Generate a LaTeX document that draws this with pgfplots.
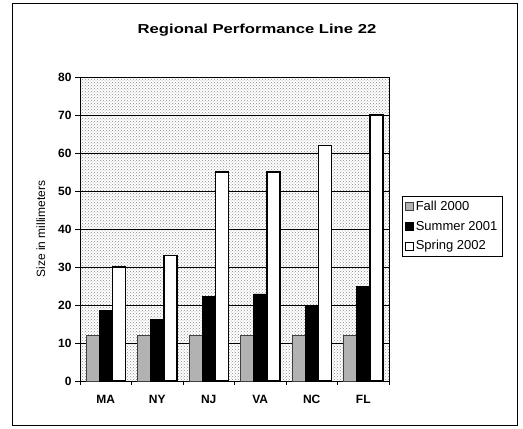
\documentclass[border=0pt]{standalone}
\usepackage{pgfplots}
\pgfplotsset{compat=1.18}
\usepackage{fontspec}
\setmainfont{Liberation Sans}
\usetikzlibrary{patterns}

\begin{document}
\begin{tikzpicture}[x=1pt,y=1pt]
\path (0,0) rectangle (523,429);
\draw[line width=0.8pt] (12,4) rectangle (517,426);
\node[font=\bfseries\fontsize{13}{16}\selectfont, xscale=1.28] at (257,399) {Regional Performance Line 22};
\begin{axis}[
  at={(80pt,48pt)}, anchor=south west,
  scale only axis, width=309pt, height=304pt,
  ymin=0, ymax=80, ytick={0,10,...,80},
  xmin=0.5, xmax=6.5,
  xtick={1,...,6}, xticklabels={MA,NY,NJ,VA,NC,FL},
  minor xtick={0.5,1.5,...,6.5},
  every major x tick/.append style={draw=none},
  tick pos=left, tick align=outside,
  major tick length=5pt, minor tick length=4pt,
  tick style={black, line width=0.8pt},
  ybar=0pt, bar width=13pt,
  ymajorgrids, major grid style={black, line width=1pt},
  axis line style={black, line width=1pt},
  axis background/.style={pattern=crosshatch dots, pattern color=gray!90},
  /pgf/number format/assume math mode=true,
  tick label style={font=\bfseries\fontsize{12}{14}\selectfont},
  xticklabel style={yshift=-6pt},
  ylabel={Size in millimeters},
  ylabel style={font=\fontsize{12}{14}\selectfont, yshift=6pt},
  legend image code/.code={\draw[#1, line width=0.6pt] (0pt,-4pt) rectangle (8pt,4pt);},
  legend style={at={(1.042,0.609)}, anchor=north west, draw=black,
    font=\fontsize{13}{15}\selectfont, row sep=5pt, inner sep=3pt},
  legend cell align=left,
]
\addplot[fill=gray!60, draw=gray!50!black, line width=0.6pt] coordinates {(1,12) (2,12) (3,12) (4,12) (5,12) (6,12)};
\addplot[fill=black, draw=black, line width=0.6pt] coordinates {(1,18.6) (2,16.2) (3,22.2) (4,22.9) (5,20) (6,25)};
\addplot[fill=white, draw=black, line width=1.5pt] coordinates {(1,30) (2,33) (3,55) (4,55) (5,62) (6,70)};
\legend{Fall 2000, Summer 2001, Spring 2002}
\end{axis}
\end{tikzpicture}
\end{document}
